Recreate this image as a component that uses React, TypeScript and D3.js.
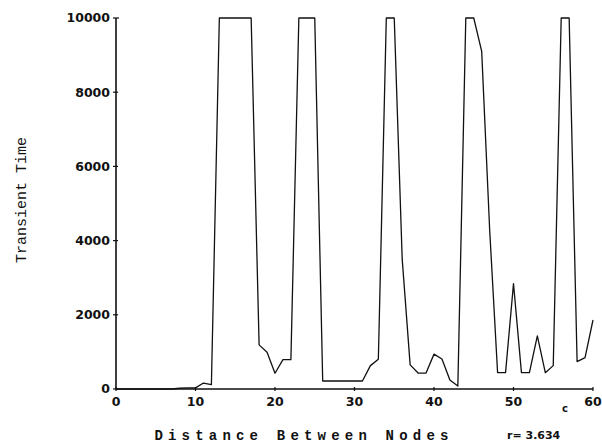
import React from "react";
import * as d3 from "d3";

const distances: number[] = d3.range(0, 61);
const transientTimes: number[] = [
  0, 0, 0, 0, 0, 0, 0, 0, 20, 30,
  30, 160, 120, 10000, 10000, 10000, 10000, 10000, 1190, 990,
  425, 790, 790, 10000, 10000, 10000, 215, 215, 215, 215,
  215, 215, 630, 800, 10000, 10000, 3500, 650, 430, 430,
  940, 810, 240, 80, 10000, 10000, 9100, 4300, 440, 440,
  2840, 440, 440, 1430, 440, 630, 10000, 10000, 740, 845,
  1860,
];
const xTicks: number[] = [0, 10, 20, 30, 40, 50, 60];
const yTicks: number[] = [0, 2000, 4000, 6000, 8000, 10000];
const xTitle = "Distance Between Nodes";
const yTitle = "Transient Time";
const note = "r= 3.634";

export default function App() {
  const W = 602, H = 446;
  const x = d3.scaleLinear().domain([0, 60]).range([116, 593]);
  const y = d3.scaleLinear().domain([0, 10000]).range([389, 18]);
  const line = d3
    .line<number>()
    .x((_, i) => x(distances[i]))
    .y((d) => y(d));
  const tickFont = "'DejaVu Sans', sans-serif";
  const monoFont = "'Liberation Mono', 'DejaVu Sans Mono', monospace";
  return (
    <svg width={W} height={H} style={{ position: "absolute", left: 0, top: 0, background: "#fff" }}>
      {/* y axis */}
      <line x1={x(0)} x2={x(0)} y1={y(0)} y2={y(10000)} stroke="#111" strokeWidth={1.6} />
      {yTicks.map((t) => (
        <g key={"y" + t}>
          <line x1={x(0) - 3} x2={x(0) + (t === 10000 ? 3 : 2)} y1={y(t)} y2={y(t)} stroke="#111" strokeWidth={1.2} />
          <text x={x(0) - 6} y={y(t)} dy="0.35em" textAnchor="end" fontFamily={tickFont} fontWeight="bold" fontSize={12.5} fill="#111">
            {t}
          </text>
        </g>
      ))}
      {/* x axis */}
      <line x1={x(0)} x2={x(60)} y1={y(0)} y2={y(0)} stroke="#111" strokeWidth={1.6} />
      {xTicks.map((t) => (
        <g key={"x" + t}>
          <line x1={x(t)} x2={x(t)} y1={y(0) - 2} y2={y(0) + 2} stroke="#111" strokeWidth={1.2} />
          <text x={x(t)} y={y(0) + 17} textAnchor="middle" fontFamily={tickFont} fontWeight="bold" fontSize={12.5} fill="#111">
            {t}
          </text>
        </g>
      ))}
      {/* data line */}
      <path d={line(transientTimes) || ""} fill="none" stroke="#111" strokeWidth={1.3} strokeLinejoin="round" />
      {/* titles */}
      <text
        transform={`translate(26,200) rotate(-90)`}
        textAnchor="middle"
        fontFamily={monoFont}
        fontSize={15}
        fill="#111"
      >
        {yTitle}
      </text>
      <text x={304} y={440} textAnchor="middle" fontFamily={monoFont} fontWeight="bold" fontSize={14} letterSpacing={5.2} fill="#111">
        {xTitle}
      </text>
      <text x={507} y={439} fontFamily={tickFont} fontWeight="bold" fontSize={11} fill="#111">
        {note}
      </text>
      <text x={562} y={412} fontFamily={tickFont} fontWeight="bold" fontSize={10} fill="#111">
        c
      </text>
    </svg>
  );
}
